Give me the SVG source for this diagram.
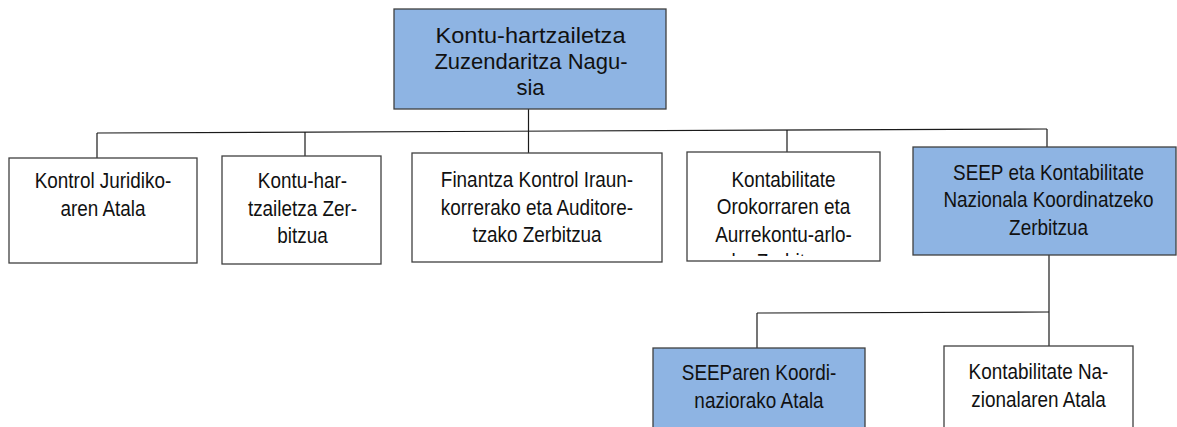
<svg xmlns="http://www.w3.org/2000/svg" width="1177" height="427" viewBox="0 0 1177 427">
<style>
.box{fill:#ffffff;stroke:#404040;stroke-width:1.3}
.blue{fill:#8EB4E3;stroke:#404040;stroke-width:1.3}
.conn line,.conn polyline{stroke:#1a1a1a;stroke-width:1.2;fill:none}
.t{font-family:"Liberation Sans",Arial,sans-serif;font-size:22px;fill:#111;text-anchor:middle}
.tt{font-family:"Liberation Sans",Arial,sans-serif;font-size:22px;fill:#111;text-anchor:middle}
</style>
<defs>
<clipPath id="c4"><rect x="687" y="152" width="193" height="104"/></clipPath>
</defs>
<rect width="1177" height="427" fill="#ffffff"/>
<g id="connectors" class="conn">
<line x1="528.5" y1="109" x2="528.5" y2="153"/>
<line x1="97" y1="133" x2="1047" y2="129"/>
<line x1="97" y1="133" x2="97" y2="158"/>
<line x1="305" y1="132" x2="305" y2="156"/>
<line x1="787" y1="130" x2="787" y2="152"/>
<line x1="1047" y1="129" x2="1047" y2="147"/>
<line x1="1049" y1="255" x2="1049" y2="346"/>
<line x1="757" y1="313" x2="1049" y2="312"/>
<line x1="757" y1="313" x2="757" y2="348"/>
</g>
<g id="n0">
<rect class="blue" x="394" y="9" width="272" height="100"/>
<text class="tt" x="530.5" y="43" textLength="190" lengthAdjust="spacingAndGlyphs">Kontu-hartzailetza</text>
<text class="tt" x="531" y="69">Zuzendaritza Nagu-</text>
<text class="tt" x="530.5" y="95">sia</text>
</g>
<g id="n1">
<rect class="box" x="9" y="158" width="188" height="105"/>
<g transform="translate(103 0) scale(0.86 1)">
<text class="t" x="0" y="188">Kontrol Juridiko-</text>
<text class="t" x="0" y="216">aren Atala</text>
</g>
</g>
<g id="n2">
<rect class="box" x="222" y="156" width="159" height="108"/>
<g transform="translate(302.5 0) scale(0.86 1)">
<text class="t" x="0" y="188">Kontu-har-</text>
<text class="t" x="0" y="216">tzailetza Zer-</text>
<text class="t" x="0" y="243">bitzua</text>
</g>
</g>
<g id="n3">
<rect class="box" x="412" y="153" width="250" height="109"/>
<g transform="translate(537 0) scale(0.86 1)">
<text class="t" x="0" y="187">Finantza Kontrol Iraun-</text>
<text class="t" x="0" y="215">korrerako eta Auditore-</text>
<text class="t" x="0" y="242">tzako Zerbitzua</text>
</g>
</g>
<g id="n4">
<rect class="box" x="687" y="152" width="193" height="109"/>
<g clip-path="url(#c4)">
<g transform="translate(783.5 0) scale(0.86 1)">
<text class="t" x="0" y="187">Kontabilitate</text>
<text class="t" x="0" y="214">Orokorraren eta</text>
<text class="t" x="0" y="242">Aurrekontu-arlo-</text>
<text class="t" x="0" y="269">ko Zerbitzua</text>
</g>
</g>
</g>
<g id="n5">
<rect class="blue" x="913" y="147" width="263" height="108"/>
<g transform="translate(1048.5 0) scale(0.86 1)">
<text class="t" x="0" y="180">SEEP eta Kontabilitate</text>
<text class="t" x="0" y="207">Nazionala Koordinatzeko</text>
<text class="t" x="0" y="235">Zerbitzua</text>
</g>
</g>
<g id="n6">
<rect class="blue" x="653" y="348" width="212" height="90"/>
<g transform="translate(759 0) scale(0.86 1)">
<text class="t" x="0" y="380">SEEParen Koordi-</text>
<text class="t" x="0" y="408">naziorako Atala</text>
</g>
</g>
<g id="n7">
<rect class="box" x="944" y="346" width="189" height="92"/>
<g transform="translate(1038.5 0) scale(0.86 1)">
<text class="t" x="0" y="379">Kontabilitate Na-</text>
<text class="t" x="0" y="407">zionalaren Atala</text>
</g>
</g>
</svg>
